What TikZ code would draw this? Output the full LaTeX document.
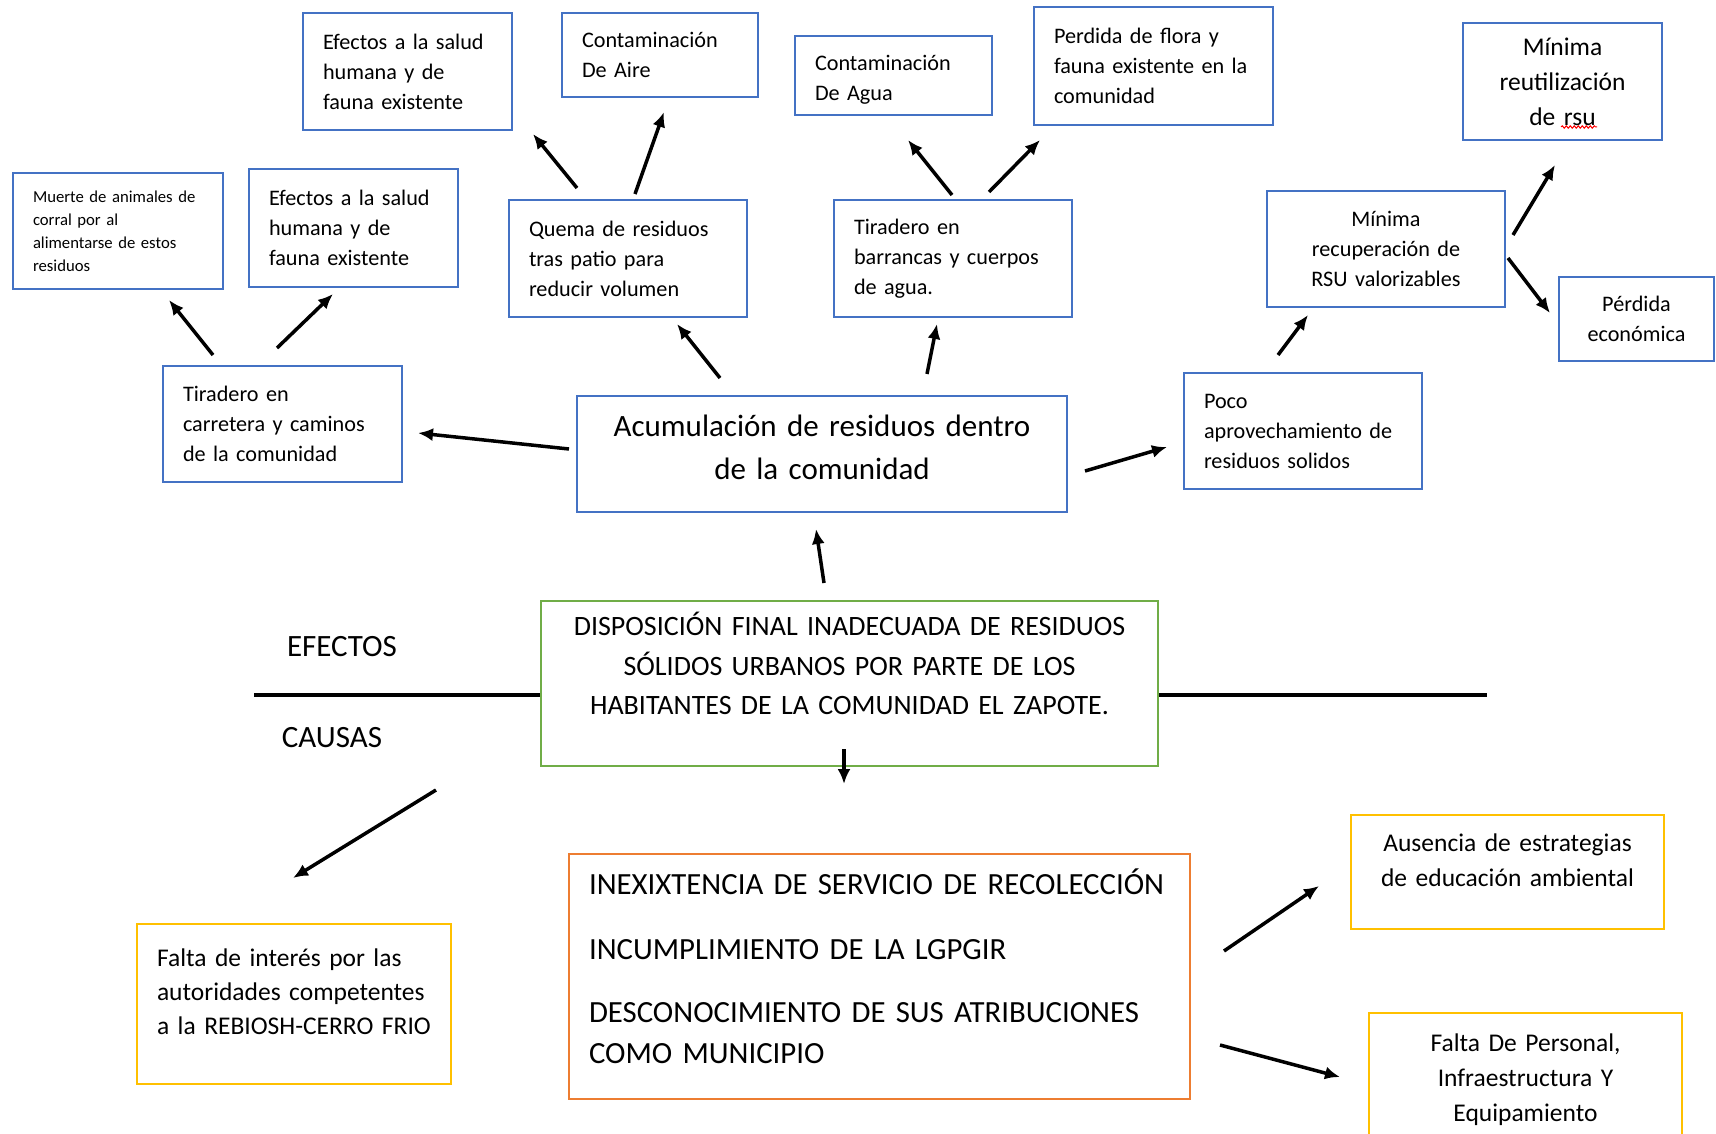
\documentclass[tikz,border=0pt]{standalone}
\usepackage{fontspec}
\setmainfont{Carlito}
\usetikzlibrary{arrows.meta,decorations.pathmorphing}
\definecolor{efblue}{HTML}{4472C4}
\definecolor{probgreen}{HTML}{70AD47}
\definecolor{causeorange}{HTML}{ED7D31}
\definecolor{causegold}{HTML}{FFC000}

\begin{document}
\begin{tikzpicture}[x=1pt, y=-1pt,
  box/.style={line width=2pt, inner xsep=20pt, inner ysep=0pt, align=left},
  efecto/.style={box, draw=efblue, font=\fontsize{22.2}{30}\selectfont},
  efectomid/.style={box, draw=efblue, align=center, font=\fontsize{25.5}{35}\selectfont},
  causa/.style={box, draw=causegold, font=\fontsize{25.5}{34}\selectfont},
  flecha/.style={line width=3.5pt, -{Latex[length=15pt,width=13pt]}},
  rotulo/.style={inner sep=0pt, font=\fontsize{31}{38}\selectfont}]

  %% ════ efectos (cajas azules) ════
  \node[efecto, font=\fontsize{16.7}{23}\selectfont, minimum width=210, minimum height=116, text width=170] (muerte) at (118,231)
    {Muerte de animales de\\corral por al\\alimentarse de estos\\residuos};
  \node[efecto, minimum width=209, minimum height=118, text width=169] (saludB) at (353.5,228)
    {Efectos a la salud\\humana y de\\fauna existente};
  \node[efecto, minimum width=209, minimum height=117, text width=169] (saludA) at (407.5,71.5)
    {Efectos a la salud\\humana y de\\fauna existente};
  \node[efecto, minimum width=196, minimum height=84, text width=156] (aire) at (660,55)
    {Contaminación\\De Aire};
  \node[efecto, minimum width=197, minimum height=79, text width=157] (agua) at (893.5,75.5)
    {Contaminación\\De Agua\\[-34pt]~};
  \node[efecto, minimum width=239, minimum height=118, text width=199] (flora) at (1153.5,66)
    {Perdida de flora y\\fauna existente en la\\comunidad};
  \node[efectomid, minimum width=199, minimum height=117, text width=159] (reutil) at (1562.5,81.5)
    {Mínima\\reutilización\\de rsu};
  \node[efecto, align=center, minimum width=238, minimum height=116, text width=198] (recup) at (1386,249)
    {Mínima\\recuperación de\\RSU valorizables};
  \node[efecto, align=center, minimum width=155, minimum height=84, text width=115] (perdida) at (1636.5,319)
    {Pérdida\\económica};
  \node[efecto, minimum width=238, minimum height=116, text width=198] (poco) at (1303,431)
    {Poco\\aprovechamiento de\\residuos solidos};
  \node[efecto, minimum width=238, minimum height=117, text width=198] (quema) at (628,258.5)
    {Quema de residuos\\tras patio para\\reducir volumen};
  \node[efecto, minimum width=238, minimum height=117, text width=198] (barranca) at (953,258.5)
    {Tiradero en\\barrancas y cuerpos\\de agua.};
  \node[efecto, minimum width=239, minimum height=116, text width=199] (carretera) at (282.5,424)
    {Tiradero en\\carretera y caminos\\de la comunidad};
  \node[efecto, align=center, font=\fontsize{31}{43}\selectfont, minimum width=490, minimum height=116, text width=450] (acum) at (822,454)
    {Acumulación de residuos dentro\\de la comunidad\\[-30pt]~};

  %% ════ problema central ════
  \node[box, draw=probgreen, align=center, font=\fontsize{28}{39.5}\selectfont, minimum width=617, minimum height=165, text width=577] (dispo) at (849.5,683.5)
    {DISPOSICIÓN FINAL INADECUADA DE RESIDUOS\\SÓLIDOS URBANOS POR PARTE DE LOS\\HABITANTES DE LA COMUNIDAD EL ZAPOTE.\\~};

  %% ════ causas ════
  \node[box, draw=causeorange, font=\fontsize{30.8}{41}\selectfont, minimum width=621, minimum height=245, text width=581] (inexis) at (879.5,976.5)
    {INEXIXTENCIA DE SERVICIO DE RECOLECCIÓN\\[24pt]INCUMPLIMIENTO DE LA LGPGIR\\[22pt]DESCONOCIMIENTO DE SUS ATRIBUCIONES\\COMO MUNICIPIO\\[-21pt]~};
  \node[causa, minimum width=314, minimum height=160, text width=274] (interes) at (294,1004)
    {Falta de interés por las\\autoridades competentes\\a la REBIOSH-CERRO FRIO\\[-10pt]~};
  \node[causa, align=center, font=\fontsize{25.5}{35}\selectfont, minimum width=313, minimum height=114, text width=273] (ausencia) at (1507.5,872)
    {Ausencia de estrategias\\de educación ambiental\\[-11pt]~};
  \node[causa, align=center, font=\fontsize{25.5}{35}\selectfont, minimum width=313, minimum height=134, text width=273] (personal) at (1525.5,1080)
    {Falta De Personal,\\Infraestructura Y\\Equipamiento};

  %% ════ eje efectos / causas ════
  \node[rotulo] (efectos) at (342,647) {EFECTOS};
  \node[rotulo] (causas) at (332,738) {CAUSAS};
  \draw[line width=4pt] (254,695) -- (dispo.west |- 0,695);
  \draw[line width=4pt] (dispo.east |- 0,695) -- (1487,695);

  %% ════ flechas ════
  \draw[flecha] (824,583) -- (816,529);    % dispo -> acum
  \draw[flecha] (569,449) -- (418,433);    % acum -> carretera
  \draw[flecha] (720,378) -- (677,324);    % acum -> quema
  \draw[flecha] (927,374) -- (937,324);    % acum -> barranca
  \draw[flecha] (1085,471) -- (1167,447);  % acum -> poco
  \draw[flecha] (213,355) -- (169,300);    % carretera -> muerte
  \draw[flecha] (277,348) -- (333,294);    % carretera -> saludB
  \draw[flecha] (577,188) -- (533,134);    % quema -> saludA
  \draw[flecha] (635,194) -- (664,112);    % quema -> aire
  \draw[flecha] (952,195) -- (908,140);    % barranca -> agua
  \draw[flecha] (989,192) -- (1040,140);   % barranca -> flora
  \draw[flecha] (1278,355) -- (1308,315);  % poco -> recup
  \draw[flecha] (1513,235) -- (1555,165);  % recup -> reutil
  \draw[flecha] (1508,258) -- (1550,313);  % recup -> perdida
  \draw[flecha] (844,749) -- (844,784);    % dispo -> inexis
  \draw[flecha] (436,790) -- (293,878);    % -> interes
  \draw[flecha] (1224,951) -- (1319,886);  % inexis -> ausencia
  \draw[flecha] (1220,1045) -- (1340,1077); % inexis -> personal

  %% subrayado rojo bajo "rsu"
  \draw[red, line width=1pt, decorate, decoration={snake, amplitude=1.2pt, segment length=4pt}] (1561,127) -- (1597,127);

  \pgfresetboundingbox
  \path[use as bounding box] (0,0) rectangle (1716,1134);
\end{tikzpicture}
\end{document}
